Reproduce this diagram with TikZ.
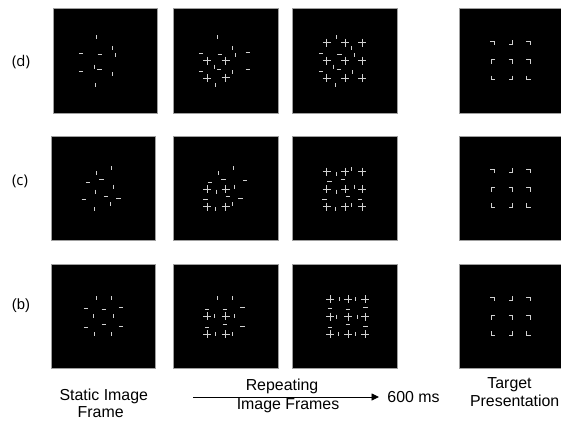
\documentclass[tikz,border=0pt]{standalone}
\usepackage{fontspec}
\setmainfont{Liberation Sans}
\newfontfamily\lblfont{Open Sans}
\usetikzlibrary{arrows.meta}
\begin{document}
\begin{tikzpicture}[x=1pt,y=-1pt,
  stim/.style={draw=white!82!black,line width=1pt},
  panel/.style={fill=black,draw=gray!75,line width=0.8pt},
  captxt/.style={inner sep=0pt,anchor=base,font=\fontsize{15.9}{17}\selectfont},
  rowlbl/.style={inner sep=0pt,anchor=center,font=\lblfont\fontsize{14.8}{16}\selectfont},
  hbar/.pic={\draw[stim] (-2.2,0) -- (2.2,0);},
  vbar/.pic={\draw[stim] (0,-2) -- (0,2);},
  crs/.pic={\draw[stim] (-4,0) -- (4,0) (0,-4) -- (0,4);},
  ctr/.pic={\draw[stim] (-2,-2) -- (2,-2) -- (2,2);},
  cbr/.pic={\draw[stim] (2,-2) -- (2,2) -- (-2,2);},
  ctl/.pic={\draw[stim] (2,-2) -- (-2,-2) -- (-2,2);},
  cbl/.pic={\draw[stim] (-2,-2) -- (-2,2) -- (2,2);}
]
\useasboundingbox (0,0) rectangle (561,420);
\fill[white] (0,0) rectangle (561,420);
% panels
\foreach \t in {8.3,136,264}{
  \draw[panel] (173.3,\t) rectangle (278,\t+104.7);
  \draw[panel] (292.7,\t) rectangle (397.3,\t+104.7);
  \fill[black] (459,\t) rectangle (561,\t+104.7);
  \draw[gray!75,line width=0.8pt] (561,\t) -- (459,\t) -- (459,\t+104.7) -- (561,\t+104.7);
  % target
  \pic at (492,\t+35) {ctr};
  \pic at (510.5,\t+34) {cbr};
  \pic at (528,\t+35) {ctr};
  \pic at (493,\t+53.5) {ctl};
  \pic at (510.5,\t+53.5) {ctr};
  \pic at (528,\t+53.5) {ctr};
  \pic at (493,\t+69.3) {cbl};
  \pic at (510.5,\t+69.3) {cbr};
  \pic at (528.5,\t+69.3) {cbl};
}
\draw[panel] (53.3,8.3) rectangle (157.3,113);
\draw[panel] (51,136) rectangle (155.7,240.7);
\draw[panel] (51,264) rectangle (155.7,368.7);

% ---- row d ----
\foreach \x/\y in {96.7/37.3,112.7/48.3,115/55,94.3/66.7,112.7/74,95.7/85,
  217/37.3,232.3/48.3,235/55,214/66.7,232.3/72.3,215.7/85,
  336.7/37.3,351.7/48.3,354.3/55,333.7/66.7,352/72.3,335/85}
  \pic at (\x,\y) {vbar};
\foreach \x/\y in {81/53.7,99.7/54,81/71,99.3/69.3,
  201/53.7,219.7/54,247.7/52,201/71,219/69.3,247.7/69.7,
  321/53.7,339.3/54,321/71,338.7/69.3}
  \pic at (\x,\y) {hbar};
\foreach \x/\y in {207.3/60.7,225.7/60.7,207.3/78.3,225.7/77.7}
  \pic at (\x,\y) {crs};
\foreach \x in {326.7,345,362.3}\foreach \y in {42.7,60.7,78.3}
  \pic at (\x,\y) {crs};

% ---- row c ----
\foreach \x/\y in {111/168.3,96/173.3,113/186.7,95.3/191.7,110.7/204,94/209,
  233/168.3,218/173.3,234.7/186.7,216.7/191.7,232/204,215.7/209,
  336.7/174,351.7/169.3,336.7/191.7,354/186.7,335/209,351.7/205}
  \pic at (\x,\y) {vbar};
\foreach \x/\y in {88/182,101.3/179.7,106/196.7,83.7/199.3,118.3/198.7,
  210/182,223.3/179.7,245/180,227.7/196.7,205.3/199.3,240.3/198.7,
  329.3/181.7,342.7/179.3,347.7/196.7,324.3/199.3,360/199}
  \pic at (\x,\y) {hbar};
\foreach \x/\y in {207.3/189,225.7/189,207.3/206.7,225.7/206.7}
  \pic at (\x,\y) {crs};
\foreach \x in {326.7,345,362.3}\foreach \y in {171.7,189.3,206.7}
  \pic at (\x,\y) {crs};

% ---- row b ----
\foreach \x/\y in {96/298.3,111.3/298.3,93/316.3,113.7/316.3,94.7/334.3,111.3/334.3,
  217/298.3,232.3/298.3,214/316.3,234.7/316.3,215.7/334.3,232.3/334.3,
  339.7/299,355.3/299,336.7/316.7,357.3/316.7,338.3/334.3,355.3/334.3}
  \pic at (\x,\y) {vbar};
\foreach \x/\y in {86/308.7,103.7/309,121/307.3,103.7/324,86/327,121/326,
  207/309,224.7/309.3,242.3/307.3,224.7/324,207/327,242.3/326,
  330/308.7,347.7/309,365.3/307.3,347.7/324,330/327,365.3/326}
  \pic at (\x,\y) {hbar};
\foreach \x/\y in {207/316.3,225.7/316.3,207/334,225.7/334}
  \pic at (\x,\y) {crs};
\foreach \x in {330,348.3,365.3}\foreach \y in {299,316.7,334.3}
  \pic at (\x,\y) {crs};

% row labels
\node[rowlbl] (ld) at (21,62) {(d)};
\node[rowlbl] (lc) at (20,181) {(c)};
\node[rowlbl,font=\fontsize{14.8}{16}\selectfont] (lb) at (21,306) {(b)};

% captions
\node[captxt] (st1) at (103.8,400.5) {Static Image};
\node[captxt] (st2) at (100.7,417) {Frame};
\node[captxt] (rp1) at (282,390) {Repeating};
\node[captxt] (rp2) at (288,409) {Image Frames};
\node[captxt] (ms) at (413.5,402) {600 ms};
\node[captxt] (tg1) at (509.5,388.5) {Target};
\node[captxt] (tg2) at (514.7,406) {Presentation};
\coordinate (arrS) at (193,397);
\coordinate (arrE) at (379,397);
\draw[line width=0.9pt,-{Triangle[length=7.5pt,width=7pt]}] (arrS) -- (arrE);
\end{tikzpicture}
\end{document}
